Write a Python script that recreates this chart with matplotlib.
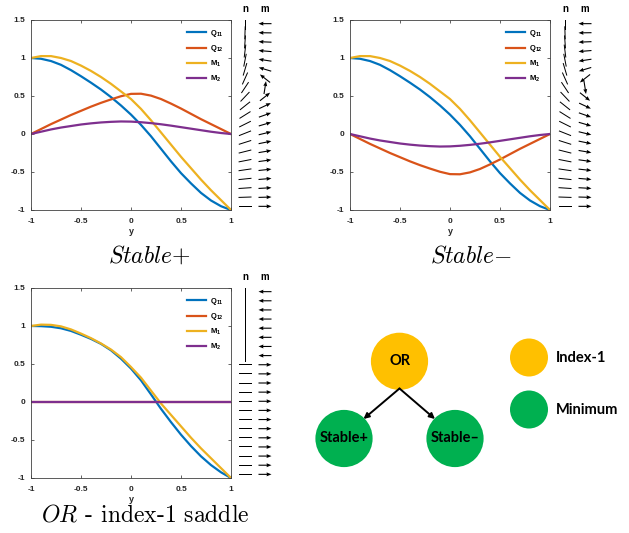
import numpy as np
import matplotlib.pyplot as plt
from matplotlib.patches import Circle

plt.rcParams['font.family'] = 'Liberation Sans'
plt.rcParams['mathtext.fontset'] = 'custom'
plt.rcParams['mathtext.rm'] = 'Liberation Sans:bold'
plt.rcParams['mathtext.bf'] = 'Liberation Sans:bold'
plt.rcParams['mathtext.it'] = 'Liberation Sans:bold'

# channel coordinate, read at 0.1 steps
y = np.array([-1.0, -0.9, -0.8, -0.7, -0.6, -0.5, -0.4, -0.3, -0.2, -0.1, 0.0,
              0.1, 0.2, 0.3, 0.4, 0.5, 0.6, 0.7, 0.8, 0.9, 1.0])

# Stable+ solution (Stable- has Q12 and M2 flipped)
q11_stable = np.array([1.00, 0.99, 0.96, 0.91, 0.84, 0.76, 0.675, 0.585, 0.485, 0.375, 0.255,
                       0.12, -0.03, -0.195, -0.36, -0.515, -0.65, -0.775, -0.875, -0.95, -1.00])
q12_stable = np.array([0.00, 0.065, 0.13, 0.19, 0.25, 0.305, 0.36, 0.41, 0.455, 0.497, 0.528,
                       0.53, 0.505, 0.46, 0.40, 0.335, 0.265, 0.195, 0.13, 0.065, 0.00])
m1_stable = np.array([1.00, 1.025, 1.025, 1.00, 0.96, 0.90, 0.83, 0.75, 0.66, 0.56, 0.46,
                      0.33, 0.18, 0.02, -0.14, -0.30, -0.45, -0.60, -0.74, -0.87, -1.00])
m2_stable = np.array([0.00, 0.03, 0.06, 0.085, 0.105, 0.125, 0.14, 0.152, 0.16, 0.165, 0.163,
                      0.155, 0.143, 0.128, 0.11, 0.09, 0.07, 0.05, 0.03, 0.013, 0.00])

# OR solution
q11_or = np.array([1.00, 0.998, 0.99, 0.97, 0.935, 0.885, 0.83, 0.765, 0.68, 0.57, 0.44,
                   0.285, 0.10, -0.09, -0.265, -0.43, -0.58, -0.715, -0.83, -0.925, -1.00])
q12_or = np.zeros(21)
m1_or = np.array([1.00, 1.018, 1.015, 0.995, 0.955, 0.90, 0.84, 0.77, 0.69, 0.59, 0.46,
                  0.32, 0.15, -0.02, -0.17, -0.32, -0.47, -0.61, -0.74, -0.87, -1.00])
m2_or = np.zeros(21)

panels = [
    ('$Stable{+}$', q11_stable, q12_stable, m1_stable, m2_stable),
    ('$Stable{-}$', q11_stable, -q12_stable, m1_stable, -m2_stable),
    ('$OR$ - index-1 saddle', q11_or, q12_or, m1_or, m2_or),
]
series_names = [r'$\mathbf{Q_{11}}$', r'$\mathbf{Q_{12}}$', r'$\mathbf{M_1}$', r'$\mathbf{M_2}$']
series_colors = ['#0072BD', '#D95319', '#EDB120', '#7E2F8E']

W, H = 629, 533
fig = plt.figure(figsize=(W / 100, H / 100), dpi=100)


def px_axes(l, t, w, h):
    return fig.add_axes([l / W, 1 - (t + h) / H, w / W, h / H])


# pixel boxes: main axes left, top, quiver left, caption center x, caption y
boxes = [(31, 20, 235, 149, 256), (350, 20, 555, 471, 256), (31, 288, 235, 145, 515)]

for (title, q11, q12, m1, m2), (l, t, ql, cx, cy) in zip(panels, boxes):
    ax = px_axes(l, t, 200, 190)
    for vals, name, c in zip([q11, q12, m1, m2], series_names, series_colors):
        ax.plot(y, vals, color=c, lw=1.6, label=name, solid_joinstyle='round')
    ax.set_xlim(-1, 1)
    ax.set_ylim(-1, 1.5)
    ax.set_xticks([-1, -0.5, 0, 0.5, 1])
    ax.set_xticklabels(['-1', '-0.5', '0', '0.5', '1'], fontweight='bold')
    ax.set_yticks([-1, -0.5, 0, 0.5, 1, 1.5])
    ax.set_yticklabels(['-1', '-0.5', '0', '0.5', '1', '1.5'], fontweight='bold')
    ax.tick_params(direction='in', length=2.5, width=0.5, top=True, right=True,
                   labelsize=6, colors='#262626', pad=4)
    ax.tick_params(axis='x', pad=5.5)
    for s in ax.spines.values():
        s.set_color('#404040')
        s.set_linewidth(0.6)
    ax.set_xlabel('y', fontsize=6.5, fontweight='bold', labelpad=1.5, color='#262626')
    ax.legend(loc='upper right', frameon=False, fontsize=5.5, handlelength=2.6,
              handletextpad=0.4, labelspacing=0.6, borderaxespad=0.6)

    # director n and polarisation m along the channel
    qax = px_axes(ql, t, 40, 190)
    qax.set_xlim(0.5, 2.5)
    qax.set_ylim(-1.04, 1.04)
    qax.axis('off')
    theta = 0.5 * np.arctan2(q12, q11)
    qax.quiver(np.ones(len(y)), y, np.cos(theta), np.sin(theta), angles='uv',
               scale_units='dots', scale=1 / 13, pivot='middle', units='dots', width=1.0,
               headwidth=0, headlength=0, headaxislength=0, color='black')
    mag = np.hypot(m1, m2)
    qax.quiver(2 * np.ones(len(y)), y, m1 / mag, m2 / mag, angles='uv',
               scale_units='dots', scale=1 / 13, pivot='middle', units='dots', width=1.1,
               headwidth=3.6, headlength=4.5, headaxislength=4.2, color='black')
    qax.text(1, 1.16, 'n', ha='center', va='center', fontsize=7, fontweight='bold')
    qax.text(2, 1.16, 'm', ha='center', va='center', fontsize=7, fontweight='bold')

    fig.text(cx / W, 1 - cy / H, title, ha='center', va='center', fontsize=17,
             family='cmr10', math_fontfamily='cm')

# state diagram
node_names = ['OR', 'Stable+', 'Stable\u2013']
node_kind = ['Index-1', 'Minimum', 'Minimum']
kind_names = ['Index-1', 'Minimum']
kind_colors = {'Index-1': '#FFC000', 'Minimum': '#00B050'}
node_xy = [(399.5, 361.3), (344, 438.5), (455, 438.5)]

dax = px_axes(300, 310, 329, 180)
dax.set_xlim(300, 629)
dax.set_ylim(490, 310)
dax.axis('off')
for name, kind, (x0, y0) in zip(node_names, node_kind, node_xy):
    dax.add_patch(Circle((x0, y0), 28.6, color=kind_colors[kind], lw=0))
    dax.text(x0, y0, name, ha='center', va='center', fontsize=10.5, fontweight='bold',
             family='Lato')
for x1 in [363.5, 435]:
    dax.annotate('', xy=(x1, 419), xytext=(399.5, 388.5),
                 arrowprops=dict(arrowstyle='-|>', color='black', lw=1.4,
                                 mutation_scale=8, shrinkA=0, shrinkB=0))
for i, kind in enumerate(kind_names):
    yy = 357.5 + i * 52
    dax.add_patch(Circle((529, yy), 19, color=kind_colors[kind], lw=0))
    dax.text(556, yy, kind, ha='left', va='center', fontsize=10.5, fontweight='bold',
             family='Lato')

fig.savefig('out.png', dpi=100)
